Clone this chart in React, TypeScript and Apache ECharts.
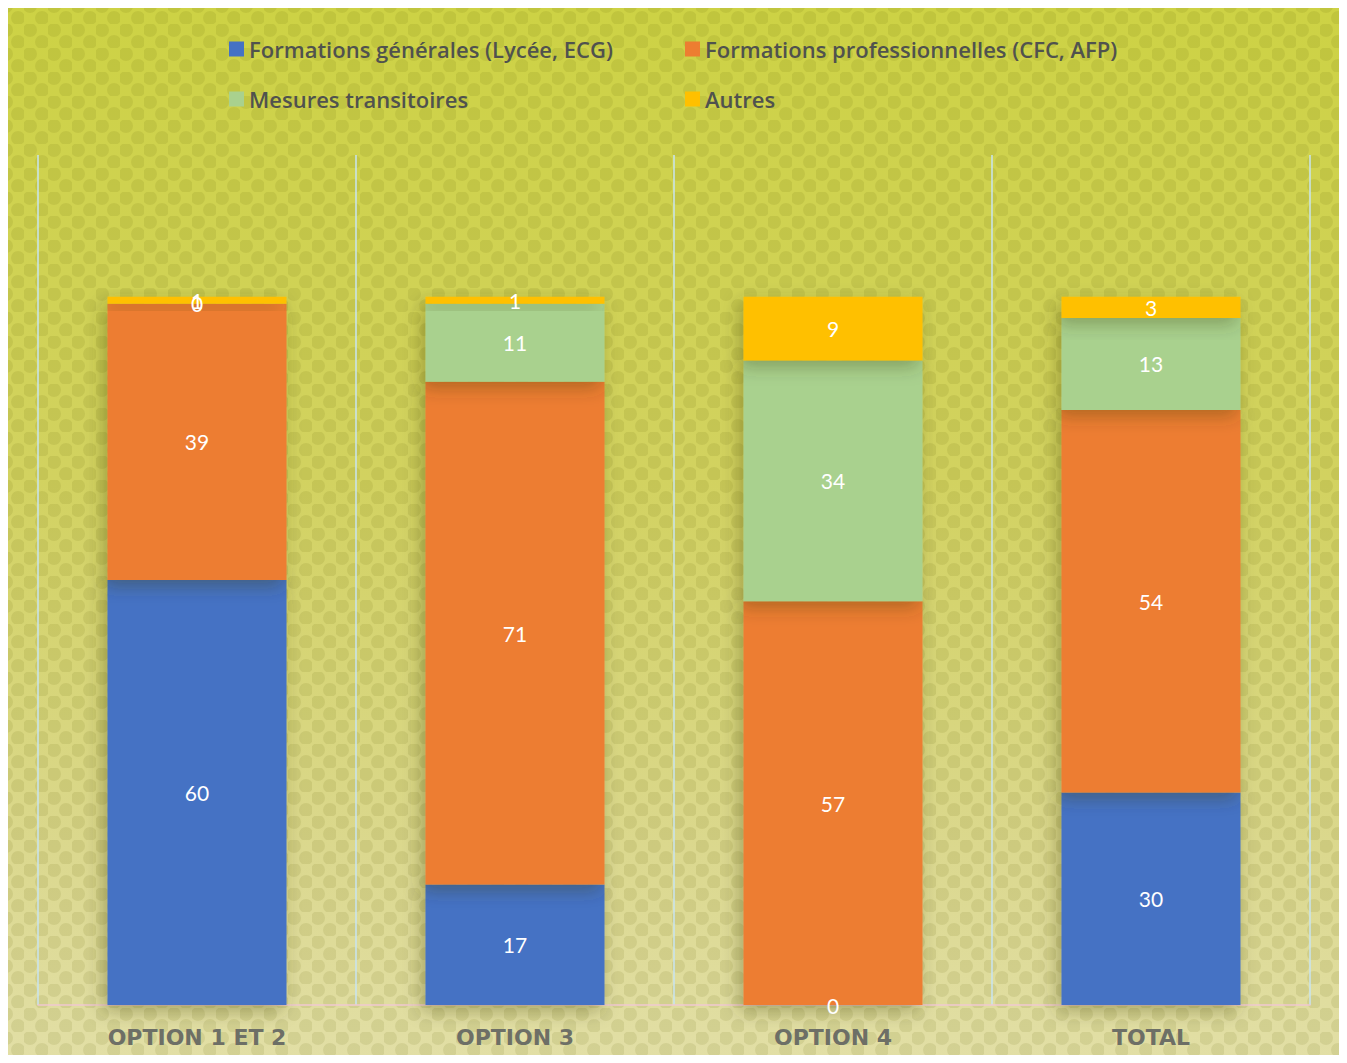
import React, { useEffect, useRef } from "react";
import * as echarts from "echarts";

const categories = ["OPTION 1 ET 2", "OPTION 3", "OPTION 4", "TOTAL"];
const seriesNames = [
  "Formations générales (Lycée, ECG)",
  "Formations professionnelles (CFC, AFP)",
  "Mesures transitoires",
  "Autres",
];
const generales = [60, 17, 0, 30];
const professionnelles = [39, 71, 57, 54];
const transitoires = [0, 11, 34, 13];
const autres = [1, 1, 9, 3];
const colors = ["#4472C4", "#ED7D31", "#A9D18E", "#FFC000"];

function makePattern(): HTMLCanvasElement | null {
  try {
    const c = document.createElement("canvas");
    c.width = 24;
    c.height = 24;
    const ctx = c.getContext("2d");
    if (!ctx) return null;
    ctx.fillStyle = "rgba(90,90,0,0.11)";
    ctx.beginPath();
    ctx.arc(6, 6, 7, 0, Math.PI * 2);
    ctx.fill();
    ctx.beginPath();
    ctx.arc(18, 18, 7, 0, Math.PI * 2);
    ctx.fill();
    return c;
  } catch (e) {
    return null;
  }
}

export default function App() {
  const ref = useRef<HTMLDivElement>(null);
  useEffect(() => {
    if (!ref.current) return;
    const chart = echarts.init(ref.current, null, { renderer: "svg" });
    const values = [generales, professionnelles, transitoires, autres];
    const pattern = makePattern();
    const graphics: any[] = [
      {
        type: "rect",
        z: -10,
        silent: true,
        shape: { x: 0, y: 0, width: 1347, height: 1063 },
        style: {
          fill: new echarts.graphic.LinearGradient(0, 0, 0, 1, [
            { offset: 0, color: "#cdd244" },
            { offset: 0.45, color: "#d2d260" },
            { offset: 0.8, color: "#dbd88e" },
            { offset: 1, color: "#e2dfa6" },
          ]),
        },
      },
    ];
    if (pattern) {
      graphics.push({
        type: "rect",
        z: -9,
        silent: true,
        shape: { x: 0, y: 0, width: 1347, height: 1063 },
        style: { fill: { image: pattern, repeat: "repeat" } as any },
      });
    }
    graphics.push({
      type: "rect",
      z: -8,
      silent: true,
      shape: { x: 6, y: 7, width: 1336, height: 1052 },
      style: { fill: "none", stroke: "rgba(235,240,220,0.8)", lineWidth: 1.5 },
    });
    const legendText = {
      fontFamily: "Open Sans",
      fontSize: 22,
      fontWeight: 600,
      color: "#50524e",
      lineHeight: 26,
    };
    chart.setOption({
      animation: false,
      color: colors,
      graphic: graphics,
      legend: [
        {
          orient: "vertical",
          left: 224,
          top: 31,
          itemWidth: 15,
          itemHeight: 15,
          itemGap: 24,
          icon: "rect",
          textStyle: legendText,
          data: [seriesNames[0], seriesNames[2]],
        },
        {
          orient: "vertical",
          left: 680,
          top: 31,
          itemWidth: 15,
          itemHeight: 15,
          itemGap: 24,
          icon: "rect",
          textStyle: legendText,
          data: [seriesNames[1], seriesNames[3]],
        },
      ],
      grid: { left: 38, right: 37, top: 155, bottom: 58 },
      xAxis: {
        type: "category",
        data: categories,
        axisTick: { show: false },
        axisLine: { lineStyle: { color: "#f0c8d0", width: 1.5 } },
        splitLine: { show: true, lineStyle: { color: "#c8e4f0", width: 1.5 } },
        axisLabel: {
          fontFamily: "DejaVu Sans",
          fontWeight: "bold",
          fontSize: 22,
          color: "#6d6f66",
          margin: 21,
        },
      },
      yAxis: {
        type: "value",
        min: 0,
        max: 120,
        show: false,
        splitLine: { show: false },
      },
      series: seriesNames.map((name, i) => ({
        name,
        type: "bar",
        stack: "total",
        barWidth: 179,
        data: values[i],
        itemStyle: {
          color: colors[i],
          shadowBlur: 18,
          shadowColor: "rgba(60,60,0,0.35)",
          shadowOffsetX: -4,
          shadowOffsetY: 6,
        },
        label: {
          show: true,
          position: "inside",
          color: "#ffffff",
          fontFamily: "Lato",
          fontSize: 21,
        },
      })),
    });
    return () => chart.dispose();
  }, []);
  return <div ref={ref} style={{ width: 1347, height: 1063, margin: -8 }} />;
}
